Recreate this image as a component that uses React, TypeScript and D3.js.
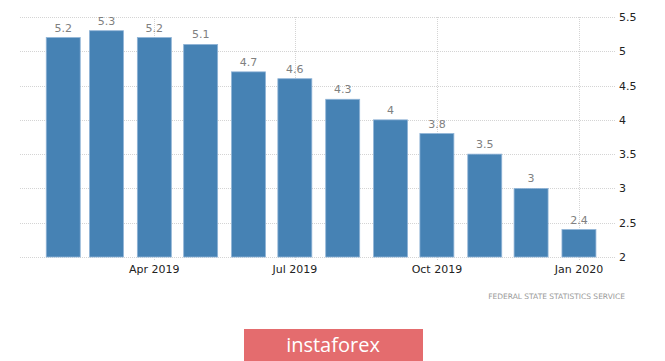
import React, { useRef, useEffect } from 'react';
import * as d3 from 'd3';

// Monthly values, Feb 2019 .. Jan 2020
const months = [
  '2019-02', '2019-03', '2019-04', '2019-05', '2019-06', '2019-07',
  '2019-08', '2019-09', '2019-10', '2019-11', '2019-12', '2020-01',
];
const values = [5.2, 5.3, 5.2, 5.1, 4.7, 4.6, 4.3, 4.0, 3.8, 3.5, 3.0, 2.4];
const valueLabels = ['5.2', '5.3', '5.2', '5.1', '4.7', '4.6', '4.3', '4', '3.8', '3.5', '3', '2.4'];
const yTicks = [2, 2.5, 3, 3.5, 4, 4.5, 5, 5.5];
const xTicks = ['2019-04', '2019-07', '2019-10', '2020-01'];
const xTickLabels = ['Apr 2019', 'Jul 2019', 'Oct 2019', 'Jan 2020'];
const sourceText = 'FEDERAL STATE STATISTICS SERVICE';
const brandText = 'instaforex';

const parseMonth = d3.timeParse('%Y-%m');

const App = () => {
  const svgRef = useRef<SVGSVGElement>(null);

  useEffect(() => {
    const svg = d3.select(svgRef.current);
    svg.selectAll('*').remove(); // start clean

    const width = 665;
    const height = 361;
    const left = 20;
    const right = 616;

    const x = d3.scaleTime()
      .domain([new Date(2019, 0, 4), new Date(2020, 0, 25)])
      .range([left, right]);
    const y = d3.scaleLinear().domain([2, 5.5]).range([257, 17]);

    svg.append('rect').attr('width', width).attr('height', height).attr('fill', '#fff');

    // horizontal grid
    svg.append('g')
      .selectAll('line')
      .data(yTicks)
      .join('line')
      .attr('x1', left)
      .attr('x2', right)
      .attr('y1', d => Math.round(y(d)) + 0.5)
      .attr('y2', d => Math.round(y(d)) + 0.5)
      .attr('stroke', '#d4d4d4')
      .attr('stroke-dasharray', '1,1');

    // vertical grid at the labelled months
    svg.append('g')
      .selectAll('line')
      .data(xTicks)
      .join('line')
      .attr('x1', d => Math.round(x(parseMonth(d)!)) + 0.5)
      .attr('x2', d => Math.round(x(parseMonth(d)!)) + 0.5)
      .attr('y1', y(5.5))
      .attr('y2', y(2) + 4)
      .attr('stroke', '#d4d4d4')
      .attr('stroke-dasharray', '1,1');

    // bars, about 22 days wide centred on the month start
    const dates = months.map(m => parseMonth(m)!);
    svg.append('g')
      .selectAll('rect')
      .data(values)
      .join('rect')
      .attr('x', (d, i) => x(d3.timeDay.offset(dates[i], -11)))
      .attr('width', (d, i) => x(d3.timeDay.offset(dates[i], 11)) - x(d3.timeDay.offset(dates[i], -11)))
      .attr('y', d => y(d))
      .attr('height', d => y(2) - y(d))
      .attr('fill', '#4682b4')
      .attr('stroke', '#8fb3d6')
      .attr('stroke-width', 0.8);

    // value labels
    svg.append('g')
      .selectAll('text')
      .data(values)
      .join('text')
      .attr('x', (d, i) => x(dates[i]))
      .attr('y', d => y(d) - 6)
      .attr('text-anchor', 'middle')
      .attr('font-family', 'DejaVu Sans, sans-serif')
      .attr('font-size', 11)
      .attr('fill', '#808080')
      .text((d, i) => valueLabels[i]);

    // y axis labels on the right
    svg.append('g')
      .selectAll('text')
      .data(yTicks)
      .join('text')
      .attr('x', 619)
      .attr('y', d => y(d) + 4)
      .attr('font-family', 'DejaVu Sans, sans-serif')
      .attr('font-size', 11)
      .attr('fill', '#222')
      .text(d => String(d));

    // x axis labels
    svg.append('g')
      .selectAll('text')
      .data(xTicks)
      .join('text')
      .attr('x', d => x(parseMonth(d)!))
      .attr('y', 273)
      .attr('text-anchor', 'middle')
      .attr('font-family', 'DejaVu Sans, sans-serif')
      .attr('font-size', 11)
      .attr('fill', '#222')
      .text((d, i) => xTickLabels[i]);

    // source
    svg.append('text')
      .attr('x', 625)
      .attr('y', 299)
      .attr('text-anchor', 'end')
      .attr('font-family', 'DejaVu Sans, sans-serif')
      .attr('font-size', 7.5)
      .attr('fill', '#999')
      .text(sourceText);

    // brand badge
    svg.append('rect')
      .attr('x', 244)
      .attr('y', 329)
      .attr('width', 179)
      .attr('height', 32)
      .attr('fill', '#e46c6e');
    svg.append('text')
      .attr('x', 333)
      .attr('y', 352)
      .attr('text-anchor', 'middle')
      .attr('font-family', 'Open Sans, sans-serif')
      .attr('font-size', 20)
      .attr('fill', '#fff')
      .text(brandText);
  }, []);

  return (
    <svg
      ref={svgRef}
      width="665"
      height="361"
      style={{ position: 'absolute', left: 0, top: 0, display: 'block' }}
    ></svg>
  );
};

export default App;
